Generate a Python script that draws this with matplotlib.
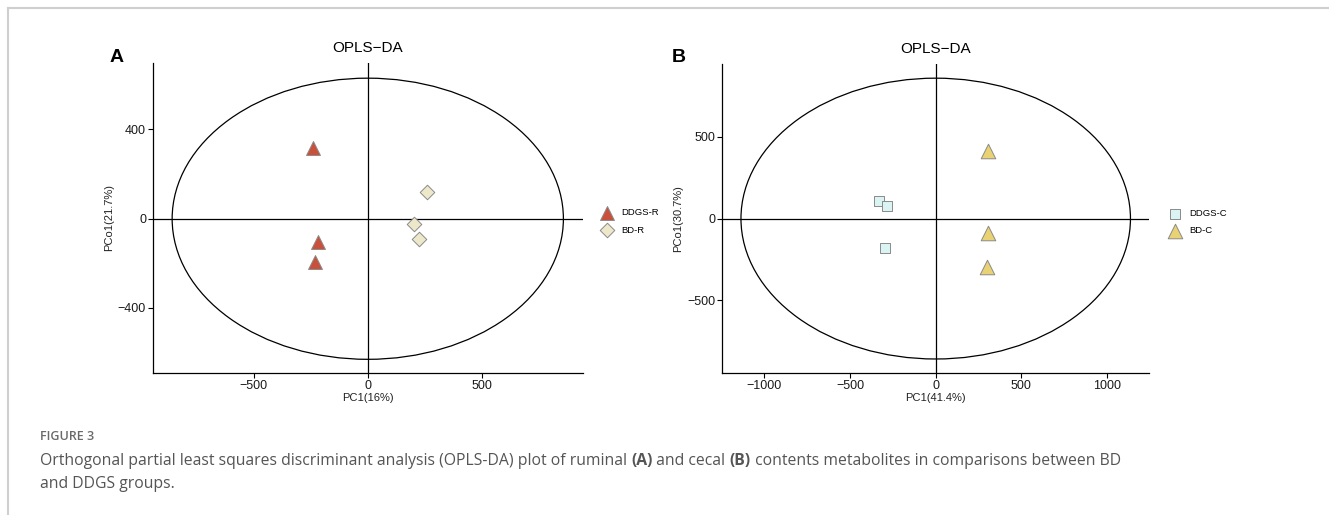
import matplotlib
matplotlib.use("Agg")
import matplotlib.pyplot as plt
from matplotlib.patches import Ellipse
from matplotlib.lines import Line2D
import numpy as np

plt.rcParams['font.family'] = ['Liberation Sans', 'DejaVu Sans']

# ---- data: panel A (ruminal) ----
a_ddgs_x = [-239, -217, -231]
a_ddgs_y = [316, -103, -193]
a_bd_x = [259, 204, 225]
a_bd_y = [118, -25, -91]
a_ellipse = (858, 630)          # semi-axes of confidence ellipse
a_xlim = (-942, 944)
a_ylim = (-690, 698)
a_xticks = [-500, 0, 500]
a_yticks = [-400, 0, 400]
a_xlabel = "PC1(16%)"
a_ylabel = "PCo1(21.7%)"
a_labels = ["DDGS-R", "BD-R"]

# ---- data: panel B (cecal) ----
b_ddgs_x = [-333, -282, -294]
b_ddgs_y = [108, 76, -181]
b_bd_x = [307, 307, 298]
b_bd_y = [416, -90, -298]
b_ellipse = (1137, 860)
b_xlim = (-1246, 1247)
b_ylim = (-944, 945)
b_xticks = [-1000, -500, 0, 500, 1000]
b_yticks = [-500, 0, 500]
b_xlabel = "PC1(41.4%)"
b_ylabel = "PCo1(30.7%)"
b_labels = ["DDGS-C", "BD-C"]

title = "OPLS\u2212DA"

W, H = 1329, 515
fig = plt.figure(figsize=(W / 100, H / 100), dpi=100)
fig.patch.set_facecolor("white")


def px_rect(l, t, r, b):
    return [l / W, 1 - b / H, (r - l) / W, (b - t) / H]


def style_axes(ax, xlim, ylim, xticks, yticks, xlabel, ylabel):
    ax.set_xlim(*xlim)
    ax.set_ylim(*ylim)
    ax.set_xticks(xticks)
    ax.set_yticks(yticks)
    ax.set_xticklabels([str(t).replace("-", "\u2212") for t in xticks])
    ax.set_yticklabels([str(t).replace("-", "\u2212") for t in yticks])
    for s in ["top", "right"]:
        ax.spines[s].set_visible(False)
    for s in ["left", "bottom"]:
        ax.spines[s].set_linewidth(0.9)
        ax.spines[s].set_color("black")
    ax.tick_params(axis="both", direction="out", length=3.5, width=0.8,
                   labelsize=9, colors="black", labelcolor="#1a1a1a", pad=1.5)
    ax.axhline(0, color="black", lw=0.9, zorder=1)
    ax.axvline(0, color="black", lw=0.9, zorder=1)
    ax.set_xlabel(xlabel, fontsize=8, color="#222222", labelpad=1)
    ax.set_ylabel(ylabel, fontsize=8, color="#222222", labelpad=3)
    ax.set_title(title, fontsize=11, pad=8)


# Panel A
axA = fig.add_axes(px_rect(153, 63, 583, 372.7))
style_axes(axA, a_xlim, a_ylim, a_xticks, a_yticks, a_xlabel, a_ylabel)
axA.add_patch(Ellipse((0, 0), 2 * a_ellipse[0], 2 * a_ellipse[1], fill=False,
                      edgecolor="black", lw=0.9, zorder=2))
hA1 = axA.scatter(a_ddgs_x, a_ddgs_y, marker="^", s=100, facecolor="#C9503A",
                  edgecolor="#8a8a8a", linewidth=0.7, zorder=3)
hA2 = axA.scatter(a_bd_x, a_bd_y, marker="D", s=55, facecolor="#EEE8CB",
                  edgecolor="#8a8a8a", linewidth=0.7, zorder=3)
fig.legend([hA1, hA2], a_labels, loc="center left",
           bbox_to_anchor=(602 / W, 1 - 221.5 / H), bbox_transform=fig.transFigure,
           frameon=False, fontsize=6.8, handlelength=1.0, handletextpad=1.0,
           labelspacing=0.85, borderpad=0, borderaxespad=0, scatterpoints=1)

# Panel B
axB = fig.add_axes(px_rect(722.3, 64.3, 1149.3, 372.7))
style_axes(axB, b_xlim, b_ylim, b_xticks, b_yticks, b_xlabel, b_ylabel)
axB.add_patch(Ellipse((0, 0), 2 * b_ellipse[0], 2 * b_ellipse[1], fill=False,
                      edgecolor="black", lw=0.9, zorder=2))
hB1 = axB.scatter(b_ddgs_x, b_ddgs_y, marker="s", s=55, facecolor="#DAF4F4",
                  edgecolor="#8a8a8a", linewidth=0.7, zorder=3)
hB2 = axB.scatter(b_bd_x, b_bd_y, marker="^", s=110, facecolor="#E8D274",
                  edgecolor="#8a8a8a", linewidth=0.7, zorder=3)
fig.legend([hB1, hB2], b_labels, loc="center left",
           bbox_to_anchor=(1170 / W, 1 - 222.4 / H), bbox_transform=fig.transFigure,
           frameon=False, fontsize=6.8, handlelength=1.0, handletextpad=1.0,
           labelspacing=0.85, borderpad=0, borderaxespad=0, scatterpoints=1)

# panel letters
fig.text(117 / W, 1 - 57 / H, "A", fontsize=14, fontweight="bold", ha="center", va="center")
fig.text(679 / W, 1 - 57 / H, "B", fontsize=14, fontweight="bold", ha="center", va="center")

# frame lines
fig.add_artist(Line2D([8 / W, 1], [1 - 8 / H, 1 - 8 / H], color="#cfcfcf", lw=1.5,
                      transform=fig.transFigure))
fig.add_artist(Line2D([8 / W, 8 / W], [1 - 8 / H, 0], color="#cfcfcf", lw=1.5,
                      transform=fig.transFigure))

# caption
cap_font = ['Open Sans', 'DejaVu Sans']
fig.text(40 / W, 1 - 437 / H, "FIGURE 3", fontsize=9, fontweight="semibold",
         color="#6a6a6a", family=cap_font, va="center")

fig.canvas.draw()
renderer = fig.canvas.get_renderer()


def draw_segments(x_px, y_px, segments, size=11.3):
    x = x_px
    for txt, bold in segments:
        t = fig.text(x / W, 1 - y_px / H, txt, fontsize=size, family=cap_font,
                     fontweight="bold" if bold else "normal", color="#555555",
                     va="center", ha="left")
        bb = t.get_window_extent(renderer=renderer)
        x += bb.width


draw_segments(40, 461, [
    ("Orthogonal partial least squares discriminant analysis (OPLS-DA) plot of ruminal ", False),
    ("(A)", True), (" and cecal ", False), ("(B)", True),
    (" contents metabolites in comparisons between BD", False)])
draw_segments(40, 484, [("and DDGS groups.", False)])

fig.savefig("out.png", dpi=100)
